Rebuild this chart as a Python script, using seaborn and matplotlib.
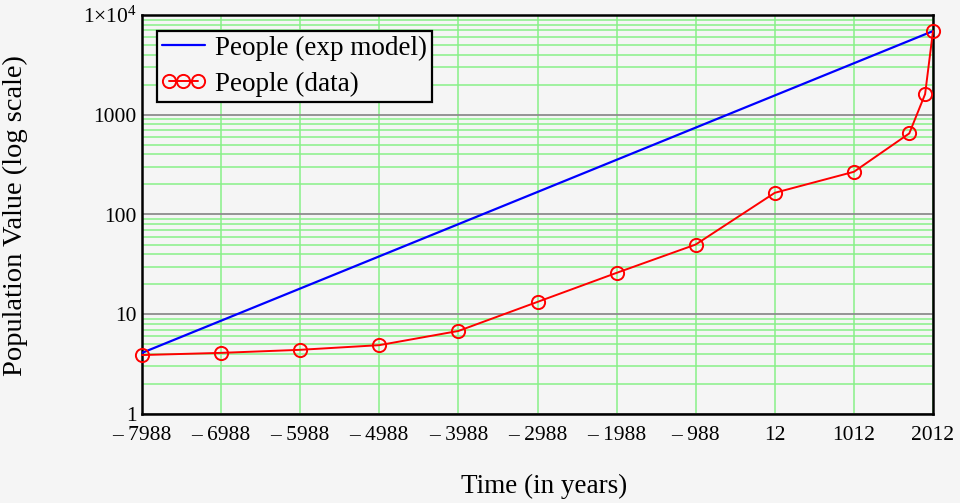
import matplotlib
matplotlib.use("Agg")
import matplotlib.pyplot as plt
import matplotlib.ticker as mticker
from matplotlib.legend_handler import HandlerLine2D
import seaborn as sns
import pandas as pd

# ---- data (population in millions) ----
model_years = [-7988, 2012]
model_values = [4.1, 6900]

data_years = [-7988, -6988, -5988, -4988, -3988, -2988, -1988, -988, 12, 1012, 1712, 1912, 2012]
data_values = [3.9, 4.1, 4.4, 4.9, 6.8, 13.3, 26, 50, 165, 268, 650, 1610, 6900]

x_ticks = [-7988, -6988, -5988, -4988, -3988, -2988, -1988, -988, 12, 1012, 2012]
x_tick_labels = ["\u2013 7988", "\u2013 6988", "\u2013 5988", "\u2013 4988", "\u2013 3988",
                 "\u2013 2988", "\u2013 1988", "\u2013 988", "12", "1012", "2012"]
y_ticks = [1, 10, 100, 1000, 10000]
y_tick_labels = ["1", "10", "100", "1000", r"1$\times$10$^{4}$"]

sns.set_style("white")
plt.rcParams["font.family"] = ["Liberation Serif", "DejaVu Serif"]
plt.rcParams["mathtext.fontset"] = "custom"
plt.rcParams["mathtext.rm"] = "Liberation Serif"
plt.rcParams["mathtext.it"] = "Liberation Serif:italic"
plt.rcParams["mathtext.bf"] = "Liberation Serif:bold"
plt.rcParams["text.color"] = "black"
plt.rcParams["axes.labelcolor"] = "black"

bg = "#F5F5F5"
fig = plt.figure(figsize=(9.6, 5.03), dpi=100, facecolor=bg)
ax = fig.add_axes([142 / 960, 89 / 503, 791 / 960, 399 / 503])
ax.set_facecolor(bg)

df_model = pd.DataFrame({"year": model_years, "value": model_values})
df_data = pd.DataFrame({"year": data_years, "value": data_values})

sns.lineplot(data=df_model, x="year", y="value", ax=ax, color="#0000FF", lw=1.6,
             label="People (exp model)", zorder=4)
sns.lineplot(data=df_data, x="year", y="value", ax=ax, color="#FF0000", lw=1.4,
             marker="o", markersize=9.5, markerfacecolor="none", markeredgecolor="#FF0000",
             markeredgewidth=1.4, label="People (data)", zorder=5, clip_on=False)

ax.set_yscale("log")
ax.set_xlim(-7988, 2012)
ax.set_ylim(1, 10000)

ax.set_xticks(x_ticks)
ax.set_xticklabels(x_tick_labels)
ax.set_yticks(y_ticks)
ax.set_yticklabels(y_tick_labels)
ax.yaxis.set_minor_locator(mticker.LogLocator(base=10, subs=range(2, 10), numticks=20))
ax.yaxis.set_minor_formatter(mticker.NullFormatter())

ax.tick_params(axis="both", which="both", length=0, labelsize=15.5, colors="black", pad=4)
ax.tick_params(axis="x", pad=9)

ax.grid(True, axis="x", which="major", color="#88F088", lw=1.1, zorder=0)
ax.grid(True, axis="y", which="minor", color="#88F088", lw=1.1, zorder=0)
ax.grid(True, axis="y", which="major", color="#8C8C8C", lw=1.3, zorder=1)
ax.set_axisbelow(True)

for s in ax.spines.values():
    s.set_color("black")
    s.set_linewidth(1.8)
    s.set_visible(True)

ax.set_xlabel("")
ax.set_ylabel("")
fig.text(544.5 / 960, 1 - 486 / 503, "Time (in years)", fontsize=19.5,
         ha="center", va="center", color="black")
fig.text(15 / 960, 1 - 216 / 503, "Population Value (log scale)", fontsize=20.5,
         ha="center", va="center", rotation=90, color="black")

handles, labels = ax.get_legend_handles_labels()
hmap = {handles[0]: HandlerLine2D(marker_pad=0.0),
        handles[1]: HandlerLine2D(marker_pad=0.26)}
leg = ax.legend(handles, labels, loc="upper left", bbox_to_anchor=(0.019, 0.96),
                borderaxespad=0, fontsize=19.5, numpoints=3, handler_map=hmap,
                handlelength=1.6, handletextpad=0.37, borderpad=0.17, labelspacing=0.41,
                frameon=True, fancybox=False, edgecolor="black", facecolor=bg, framealpha=1)
leg.get_frame().set_linewidth(1.6)
for t in leg.get_texts():
    t.set_color("black")

fig.savefig("out.png", dpi=100, facecolor=bg)
